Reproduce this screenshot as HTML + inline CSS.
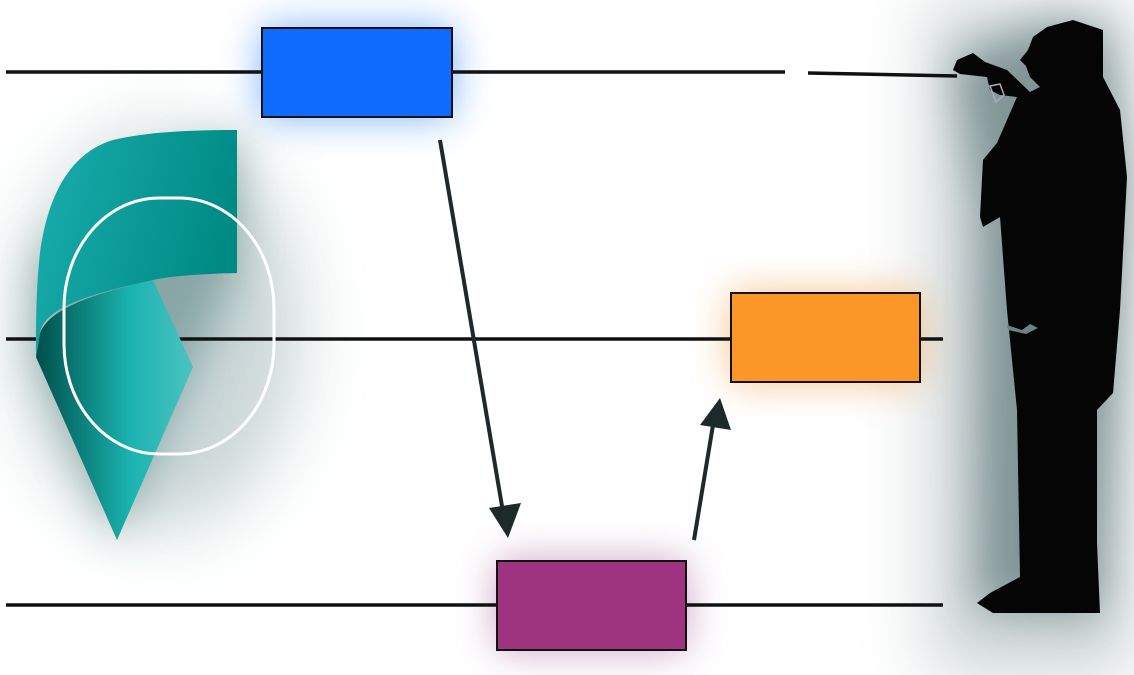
<!DOCTYPE html>
<html><head><style>html,body{margin:0;padding:0;background:#fff;}svg{display:block}</style></head>
<body>
<svg width="1134" height="675" viewBox="0 0 1134 675" xmlns="http://www.w3.org/2000/svg">
<defs>
<filter id="b60" x="-100%" y="-100%" width="300%" height="300%"><feGaussianBlur stdDeviation="35"/></filter>
<filter id="b40" x="-100%" y="-100%" width="300%" height="300%"><feGaussianBlur stdDeviation="22"/></filter>
<filter id="b25" x="-100%" y="-100%" width="300%" height="300%"><feGaussianBlur stdDeviation="20"/></filter>
<linearGradient id="tg" x1="0" y1="0" x2="1" y2="0.3"><stop offset="0" stop-color="#1aaeae"/><stop offset="1" stop-color="#008a84"/></linearGradient>
<linearGradient id="lg" x1="0" y1="0" x2="1" y2="0"><stop offset="0" stop-color="#004f4a"/><stop offset="0.6" stop-color="#1ab3b0"/><stop offset="1" stop-color="#4cc3c0"/></linearGradient>
</defs>
<rect width="1134" height="675" fill="#fff"/>
<!-- glows -->
<rect x="930" y="0" width="204" height="675" fill="#6f8688" opacity="0.35" filter="url(#b60)"/>
<path d="M1050 23 L1103 30 L1127 177 L1120 310 L1100 613 L977 607 L980 217 L953 60 Z" fill="#4f6a6c" opacity="0.6" filter="url(#b40)"/>
<ellipse cx="160" cy="330" rx="140" ry="200" fill="#8aa4a6" opacity="0.45" filter="url(#b60)"/>
<path d="M237 130 L237 273 L193 367 L117 540 L36 357 L40 253 Z" fill="#4a7878" opacity="0.5" filter="url(#b40)"/>
<rect x="262" y="28" width="190" height="89" fill="#3f8ef5" opacity="0.7" filter="url(#b25)"/>
<rect x="731" y="293" width="189" height="89" fill="#f3a65a" opacity="0.7" filter="url(#b25)"/>
<rect x="497" y="561" width="189" height="89" fill="#a8609a" opacity="0.6" filter="url(#b25)"/>
<!-- lines -->
<g stroke="#111" stroke-width="3.5">
<line x1="6" y1="72" x2="785" y2="72"/>
<line x1="6" y1="339" x2="943" y2="339"/>
<line x1="6" y1="605" x2="943" y2="605"/>
<line x1="808" y1="73" x2="957" y2="76"/>
</g>
<!-- boxes -->
<rect x="262" y="28" width="190" height="89" fill="#106cfc" stroke="#111" stroke-width="2"/>
<rect x="731" y="293" width="189" height="89" fill="#fb9629" stroke="#111" stroke-width="2"/>
<rect x="497" y="561" width="189" height="89" fill="#9e3380" stroke="#111" stroke-width="2"/>
<!-- arrows -->
<g stroke="#1c2a2a" stroke-width="4" fill="#1c2a2a">
<line x1="440" y1="140" x2="503" y2="512"/>
<line x1="694" y1="540" x2="713" y2="425"/>
</g>
<polygon points="508,538 489,508 521,503" fill="#1c2a2a"/>
<polygon points="720,398 731,430 700,425" fill="#1c2a2a"/>
<!-- teal shape -->
<path d="M36 357 L117 540 L193 367 L153 280 C110 290 50 305 40 333 Z" fill="url(#lg)"/>
<path d="M237 130 L237 273 C200 274 170 276 153 280 C100 292 45 305 40 333 L36 357 C36 320 36 290 40 253 C50 180 80 150 113 140 C150 131 200 130 237 130 Z" fill="url(#tg)"/>
<rect x="64" y="198" width="210" height="256" rx="95" ry="110" fill="none" stroke="#fff" stroke-width="3"/>
<!-- conductor -->
<path d="M1033 37 L1028 50 L1020 60 L1026 66 L1030 77 L1040 87 L1030 92 L1007 70 L985 62 L973 53 L957 60 L953 70 L960 74 L987 77 L990 90 L1000 95 L1017 97 L997 143 L983 160 L980 217 L983 227 L1000 217 L1007 310 L1017 410 L1020 577 L990 593 L977 603 L993 613 L1100 613 L1097 543 L1097 410 L1113 393 L1120 310 L1127 177 L1120 110 L1103 77 L1103 30 L1073 20 L1047 27 Z" fill="#050505"/>
<path d="M1007 325 L1022 330 L1030 324 L1038 328 L1026 334 L1008 330 Z" fill="#6a8486"/>
<path d="M990 86 L1000 84 L1004 95 L996 102 Z" fill="none" stroke="#aab" stroke-width="1.5"/>
</svg>
</body></html>
